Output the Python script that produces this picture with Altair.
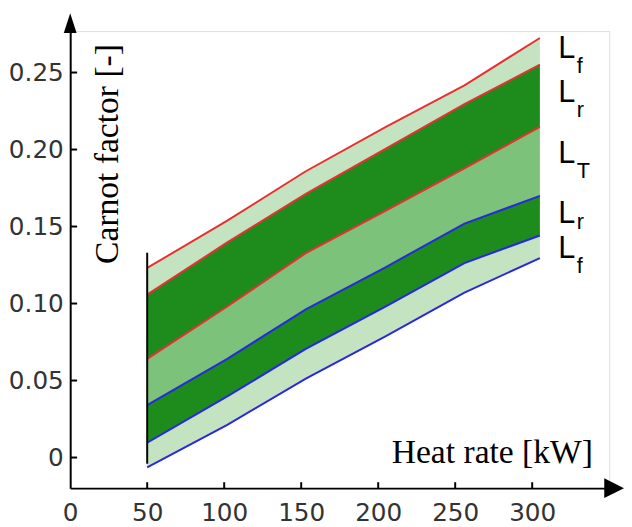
import altair as alt
import pandas as pd

# ---- data ----
x_vals = [50, 102, 153, 205, 256, 305]
red_top = [0.1231, 0.1538, 0.1859, 0.2147, 0.2417, 0.2724]
red_mid = [0.1058, 0.1397, 0.1712, 0.2006, 0.2295, 0.2551]
red_low = [0.0641, 0.0981, 0.1327, 0.1603, 0.1878, 0.2147]
blue_top = [0.0340, 0.0641, 0.0962, 0.1237, 0.1519, 0.1699]
blue_mid = [0.0096, 0.0397, 0.0705, 0.0981, 0.1263, 0.1442]
blue_low = [-0.0064, 0.0212, 0.0513, 0.0788, 0.1071, 0.1295]

x_ticks = [0, 50, 100, 150, 200, 250, 300]
y_ticks = [0, 0.05, 0.10, 0.15, 0.20, 0.25]

band_names = ["Lf_upper", "Lr_upper", "LT", "Lr_lower", "Lf_lower"]
band_colors = ["#c4e3c0", "#1d8c1d", "#7dc27b", "#1d8c1d", "#c4e3c0"]

line_names = ["red_top", "red_mid", "red_low", "blue_top", "blue_mid", "blue_low"]
line_colors = ["#e83030", "#e83030", "#e83030", "#2828e0", "#2828e0", "#2828e0"]

label_main = ["L", "L", "L", "L", "L"]
label_sub = ["f", "r", "T", "r", "f"]
label_y = [0.2596, 0.2308, 0.1910, 0.1526, 0.1295]
sub_y = [0.2500, 0.2212, 0.1814, 0.1481, 0.1199]
label_x = 317
sub_x = 329

edge_x = 50
edge_lo = -0.004
edge_hi = 0.133

x_dom = [0, 350]
y_dom = [-0.01987, 0.27692]

# ---- tables ----
bounds = {
    "Lf_lower": (blue_low, blue_mid),
    "Lr_lower": (blue_mid, blue_top),
    "LT": (blue_top, red_low),
    "Lr_upper": (red_low, red_mid),
    "Lf_upper": (red_mid, red_top),
}
band_rows = []
for name, (lo, hi) in bounds.items():
    for i, xv in enumerate(x_vals):
        band_rows.append({"x": xv, "lo": lo[i], "hi": hi[i], "band": name})
band_df = pd.DataFrame(band_rows)

series = dict(zip(line_names, [red_top, red_mid, red_low, blue_top, blue_mid, blue_low]))
line_rows = []
for name, vals in series.items():
    for i, xv in enumerate(x_vals):
        line_rows.append({"x": xv, "y": vals[i], "line": name})
line_df = pd.DataFrame(line_rows)

lab_df = pd.DataFrame({"x": [label_x] * 5, "y": label_y, "t": label_main})
sub_df = pd.DataFrame({"x": [sub_x] * 5, "y": sub_y, "t": label_sub})

xs = alt.Scale(domain=x_dom, nice=False, zero=False)
ys = alt.Scale(domain=y_dom, nice=False, zero=False)

x_axis = alt.Axis(
    values=x_ticks, grid=False, ticks=False, tickSize=0,
    domainColor="black", domainWidth=2,
    labelFont="DejaVu Sans", labelFontSize=25, labelColor="#333333",
    labelPadding=13, labelFlush=False,
    title="Heat rate [kW]", titleFont="Liberation Serif", titleFontSize=34,
    titleFontWeight="normal", titleColor="black",
    titleX=529, titleY=-26, titleAlign="right", titleBaseline="alphabetic", titleAngle=0,
)
y_axis = alt.Axis(
    values=y_ticks, grid=False, ticks=False, tickSize=0,
    domainColor="black", domainWidth=2,
    labelFont="DejaVu Sans", labelFontSize=25, labelColor="#333333",
    labelPadding=7, labelFlush=False,
    labelExpr="datum.value == 0 ? '0' : format(datum.value, '.2f')",
    title="Carnot factor [-]", titleFont="Liberation Serif", titleFontSize=34,
    titleFontWeight="normal", titleColor="black",
    titleX=48, titleY=124, titleAlign="center", titleBaseline="alphabetic", titleAngle=270,
)

areas = alt.Chart(band_df).mark_area(opacity=1, interpolate="linear").encode(
    x=alt.X("x:Q", scale=xs, axis=x_axis),
    y=alt.Y("lo:Q", scale=ys, axis=y_axis),
    y2="hi:Q",
    fill=alt.Fill("band:N", scale=alt.Scale(domain=band_names, range=band_colors), legend=None),
)

lines = alt.Chart(line_df).mark_line(strokeWidth=2, interpolate="linear").encode(
    x=alt.X("x:Q", scale=xs),
    y=alt.Y("y:Q", scale=ys),
    stroke=alt.Stroke("line:N", scale=alt.Scale(domain=line_names, range=line_colors), legend=None),
    detail="line:N",
)

edge = alt.Chart(pd.DataFrame({"x": [edge_x], "lo": [edge_lo], "hi": [edge_hi]})).mark_rule(
    color="black", strokeWidth=2
).encode(x=alt.X("x:Q", scale=xs), y=alt.Y("lo:Q", scale=ys), y2="hi:Q")

# inward ticks
tick_len_y = 6 / 1560
tick_len_x = 7 / 1.56
xt_df = pd.DataFrame({"x": x_ticks[1:], "lo": [y_dom[0]] * 6, "hi": [y_dom[0] + tick_len_y] * 6})
yt_df = pd.DataFrame({"y": y_ticks, "lo": [0] * 6, "hi": [tick_len_x] * 6})
xt = alt.Chart(xt_df).mark_rule(color="black", strokeWidth=2).encode(
    x=alt.X("x:Q", scale=xs), y=alt.Y("lo:Q", scale=ys), y2="hi:Q")
yt = alt.Chart(yt_df).mark_rule(color="black", strokeWidth=2).encode(
    y=alt.Y("y:Q", scale=ys), x=alt.X("lo:Q", scale=xs), x2="hi:Q")

# arrow heads
up_arrow = alt.Chart(pd.DataFrame({"x": [0], "y": [0.2821]})).mark_point(
    shape="M0,-1L0.65,1L-0.65,1Z", filled=True, size=400, color="black", opacity=1
).encode(x=alt.X("x:Q", scale=xs), y=alt.Y("y:Q", scale=ys))
right_arrow = alt.Chart(pd.DataFrame({"x": [353.2], "y": [y_dom[0]]})).mark_point(
    shape="M1,0L-1,-1L-1,1Z", filled=True, size=400, color="black", opacity=1
).encode(x=alt.X("x:Q", scale=xs), y=alt.Y("y:Q", scale=ys))

labels = alt.Chart(lab_df).mark_text(
    align="left", baseline="alphabetic", font="Liberation Sans", fontSize=31, color="black"
).encode(x=alt.X("x:Q", scale=xs), y=alt.Y("y:Q", scale=ys), text="t:N")
subs = alt.Chart(sub_df).mark_text(
    align="left", baseline="alphabetic", font="Liberation Sans", fontSize=22, color="black"
).encode(x=alt.X("x:Q", scale=xs), y=alt.Y("y:Q", scale=ys), text="t:N")

chart = alt.layer(areas, lines, edge, xt, yt, up_arrow, right_arrow, labels, subs).resolve_scale(
    color="independent"
).properties(
    width=546, height=463,
    autosize=alt.AutoSizeParams(type="none"),
    padding={"left": 63, "top": 20, "right": 15, "bottom": 36},
).configure_view(stroke=None).configure(background="white")

chart.save("out.html", embed_options={"renderer": "svg", "actions": False})
